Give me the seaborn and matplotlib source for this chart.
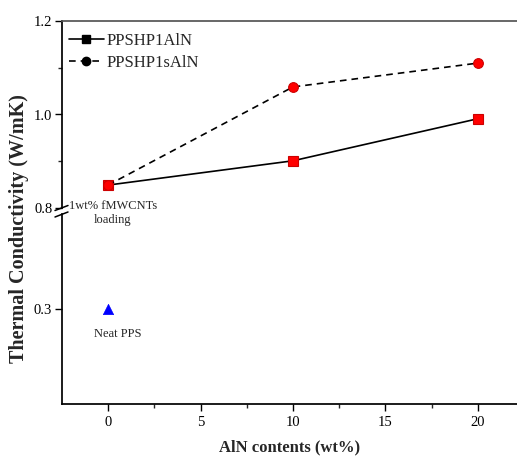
import matplotlib
matplotlib.use("Agg")
import matplotlib.pyplot as plt
import seaborn as sns
from matplotlib.lines import Line2D
from matplotlib.ticker import MultipleLocator

# data
aln_content = [0, 10, 20]
ppshp1_aln = [0.849, 0.901, 0.991]
ppshp1s_aln = [0.849, 1.059, 1.110]
neat_x = [0]
neat_pps = [0.30]

sns.set_theme(style="ticks")
plt.rcParams["font.family"] = ["Liberation Serif", "DejaVu Serif"]

W, H = 517, 459
fig = plt.figure(figsize=(W / 100, H / 100), dpi=100)

def fig_box(left, top, right, bottom):
    return [left / W, 1 - bottom / H, (right - left) / W, (bottom - top) / H]

ax_top = fig.add_axes(fig_box(62, 21, 517, 208))
ax_bot = fig.add_axes(fig_box(62, 214, 517, 404))

xlim = (-2.49, 22.11)

# upper part
sns.lineplot(x=aln_content, y=ppshp1_aln, ax=ax_top, color="black", lw=1.2,
             linestyle="-", marker="s", markersize=7, markerfacecolor="red",
             markeredgecolor="#cc0000", markeredgewidth=0.8)
sns.lineplot(x=aln_content, y=ppshp1s_aln, ax=ax_top, color="black", lw=1.2,
             linestyle=(0, (4, 3)), marker="o", markersize=7, markerfacecolor="red",
             markeredgecolor="#cc0000", markeredgewidth=0.8)
ax_top.set_xlim(*xlim)
ax_top.set_ylim(0.8, 1.2)
ax_top.yaxis.set_minor_locator(MultipleLocator(0.1))
ax_top.set_yticks([0.8, 1.0, 1.2])
ax_top.set_yticklabels(["0.8", "1.0", "1.2"])
ax_top.set_xticks([])
for s in ["right", "bottom"]:
    ax_top.spines[s].set_visible(False)
ax_top.spines["top"].set_color("#555555")
ax_top.spines["left"].set_color("black")
ax_top.tick_params(axis="y", which="major", direction="out", length=5, width=1,
                   labelsize=10.5, pad=2, colors="black")
ax_top.tick_params(axis="y", which="minor", direction="out", length=3, width=1)
ax_top.set_facecolor("none")

ax_top.text(0.25, 0.789, "1wt% fMWCNTs\nloading", ha="center", va="center",
            fontsize=9, linespacing=1.3, clip_on=False)

handles = [
    Line2D([], [], color="black", lw=1.2, marker="s", markersize=6,
           markerfacecolor="black", markeredgecolor="black"),
    Line2D([], [], color="black", lw=1.2, linestyle=(0, (4, 3)), marker="o",
           markersize=6, markerfacecolor="black", markeredgecolor="black"),
]
ax_top.legend(handles, ["PPSHP1AlN", "PPSHP1sAlN"], loc="upper left",
              frameon=False, fontsize=12, handlelength=2.1, handletextpad=0.2,
              borderaxespad=0.0, labelspacing=0.35,
              bbox_to_anchor=(0.0, 0.97))

# lower part
sns.scatterplot(x=neat_x, y=neat_pps, ax=ax_bot, marker="^", s=55,
                color="#0000ff", edgecolor="#0000ff", linewidth=0.5)
ax_bot.set_xlim(*xlim)
ax_bot.set_ylim(0.1, 0.5)
ax_bot.set_yticks([0.3])
ax_bot.set_yticklabels(["0.3"])
ax_bot.xaxis.set_major_locator(MultipleLocator(5))
ax_bot.xaxis.set_minor_locator(MultipleLocator(2.5))
for s in ["right", "top"]:
    ax_bot.spines[s].set_visible(False)
ax_bot.spines["left"].set_color("black")
ax_bot.spines["bottom"].set_color("black")
ax_bot.tick_params(axis="both", which="major", direction="out", length=5, width=1,
                   labelsize=10.5, pad=4, colors="black")
ax_bot.tick_params(axis="y", which="major", pad=2)
ax_bot.tick_params(axis="x", which="minor", direction="out", length=3, width=1)
ax_bot.set_facecolor("none")
ax_bot.text(0.5, 0.247, "Neat PPS", ha="center", va="center", fontsize=9)

# axis break marks
for yb in (210.5, 217.0):
    fig.add_artist(Line2D([55 / W, 68 / W], [1 - (yb) / H, 1 - (yb - 5) / H],
                          color="black", lw=1.1))

fig.text(19 / W, 1 - 229 / H, "Thermal Conductivity (W/mK)", rotation=90,
         ha="center", va="center", fontsize=14.5, fontweight="bold")
fig.text(290 / W, 1 - 447 / H, "AlN contents (wt%)", ha="center", va="center",
         fontsize=12, fontweight="bold")

fig.savefig("out.png", dpi=100)
